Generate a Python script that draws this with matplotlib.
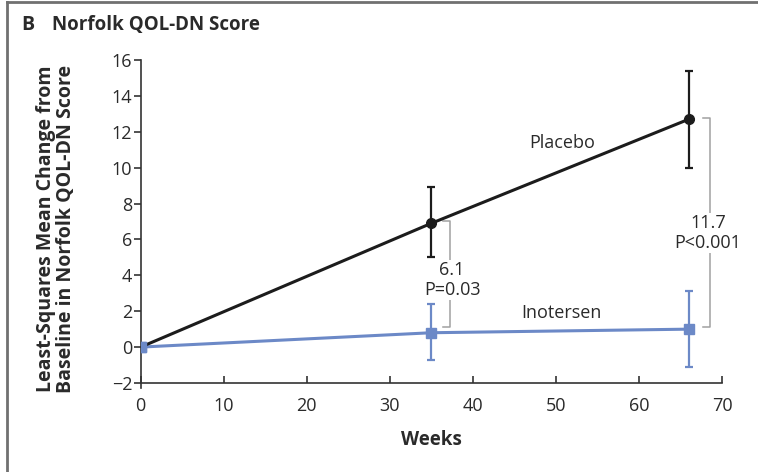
import matplotlib.pyplot as plt
from matplotlib.lines import Line2D

plt.rcParams['font.family'] = ['Open Sans', 'DejaVu Sans']

# Data
weeks = [0, 35, 66]
placebo = [0.0, 6.9, 12.7]
placebo_lo = [0.0, 5.0, 10.0]
placebo_hi = [0.0, 8.9, 15.4]
inotersen = [0.0, 0.8, 1.0]
inotersen_lo = [0.0, -0.7, -1.1]
inotersen_hi = [0.0, 2.4, 3.1]
diff_labels = ['6.1\nP=0.03', '11.7\nP<0.001']

blue = '#6c89c7'
black = '#1c1c1c'
gray = '#a0a0a0'
txt = '#2a2a2a'

fig = plt.figure(figsize=(7.58, 4.72), dpi=100)
ax = fig.add_axes([0.1856, 0.1886, 0.7670, 0.6843])

p_err = [[m - l for m, l in zip(placebo, placebo_lo)],
         [h - m for m, h in zip(placebo, placebo_hi)]]
i_err = [[m - l for m, l in zip(inotersen, inotersen_lo)],
         [h - m for m, h in zip(inotersen, inotersen_hi)]]

ax.errorbar(weeks[1:], inotersen[1:], yerr=[e[1:] for e in i_err], fmt='none',
            ecolor=blue, elinewidth=1.6, capsize=3, capthick=1.6, zorder=3)
ax.plot(weeks, inotersen, color=blue, lw=2.2, marker='s', ms=7, zorder=4)
ax.errorbar(weeks[1:], placebo[1:], yerr=[e[1:] for e in p_err], fmt='none',
            ecolor=black, elinewidth=1.6, capsize=3, capthick=1.6, zorder=3)
ax.plot(weeks, placebo, color=black, lw=2.2, marker='o', ms=7, zorder=5)
ax.plot(weeks[0], inotersen[0], color=blue, marker='s', ms=7, zorder=6)

# difference brackets (x position, top, bottom) and label centres
brackets = [(37.3, 7.04, 1.11), (68.5, 12.75, 1.11)]
label_pos = [(37.5, 3.73), (68.3, 6.35)]
for (bx, top, bot), (tx, ty), lab in zip(brackets, label_pos, diff_labels):
    ax.plot([bx - 0.85, bx, bx, bx - 0.85], [top, top, bot, bot],
            color=gray, lw=1.1, zorder=2)
    ax.text(tx, ty, lab, ha='center', va='center', fontsize=13,
            color=txt, linespacing=1.1,
            bbox=dict(facecolor='white', edgecolor='none', pad=1.0), zorder=2.5)

ax.text(50.8, 11.4, 'Placebo', ha='center', va='center', fontsize=13, color=txt)
ax.text(50.7, 1.9, 'Inotersen', ha='center', va='center', fontsize=13, color=txt)

ax.set_xlim(0, 70)
ax.set_ylim(-2, 16)
ax.set_xticks(range(0, 71, 10))
ax.set_yticks(range(-2, 17, 2))
ax.set_yticklabels([str(v).replace('-', '\u2212') for v in range(-2, 17, 2)])
ax.spines['top'].set_visible(False)
ax.spines['right'].set_visible(False)
for s in ['left', 'bottom']:
    ax.spines[s].set_color('#333333')
    ax.spines[s].set_linewidth(1.2)
ax.spines['left'].set_bounds(-2.3, 16)
ax.tick_params(axis='y', direction='out', length=5, width=1.2, color='#333333',
               labelsize=13, pad=1, labelcolor=txt)
ax.tick_params(axis='x', direction='in', length=5, width=1.2, color='#333333',
               labelsize=13, pad=10, labelcolor=txt)

ax.set_xlabel('Weeks', fontsize=13.5, fontweight='bold', color=txt, labelpad=11)
fig.text(56 / 758, 1 - 229 / 472,
         'Least-Squares Mean Change from\nBaseline in Norfolk QOL-DN Score',
         rotation=90, ha='center', va='center', multialignment='center',
         fontsize=14, fontweight='bold', color=txt, linespacing=1.05)

fig.text(21 / 758, 1 - 25 / 472, 'B', fontsize=14, fontweight='bold',
         color=txt, va='center')
fig.text(52 / 758, 1 - 25 / 472, 'Norfolk QOL-DN Score', fontsize=13.5,
         fontweight='bold', color=txt, va='center')

# frame lines at left and top
fig.add_artist(Line2D([7 / 758, 7 / 758], [0, 1 - 2 / 472], transform=fig.transFigure,
                      color='#707070', lw=2))
fig.add_artist(Line2D([7 / 758, 1], [1 - 2 / 472, 1 - 2 / 472], transform=fig.transFigure,
                      color='#707070', lw=2))

fig.savefig('out.png', dpi=100)
